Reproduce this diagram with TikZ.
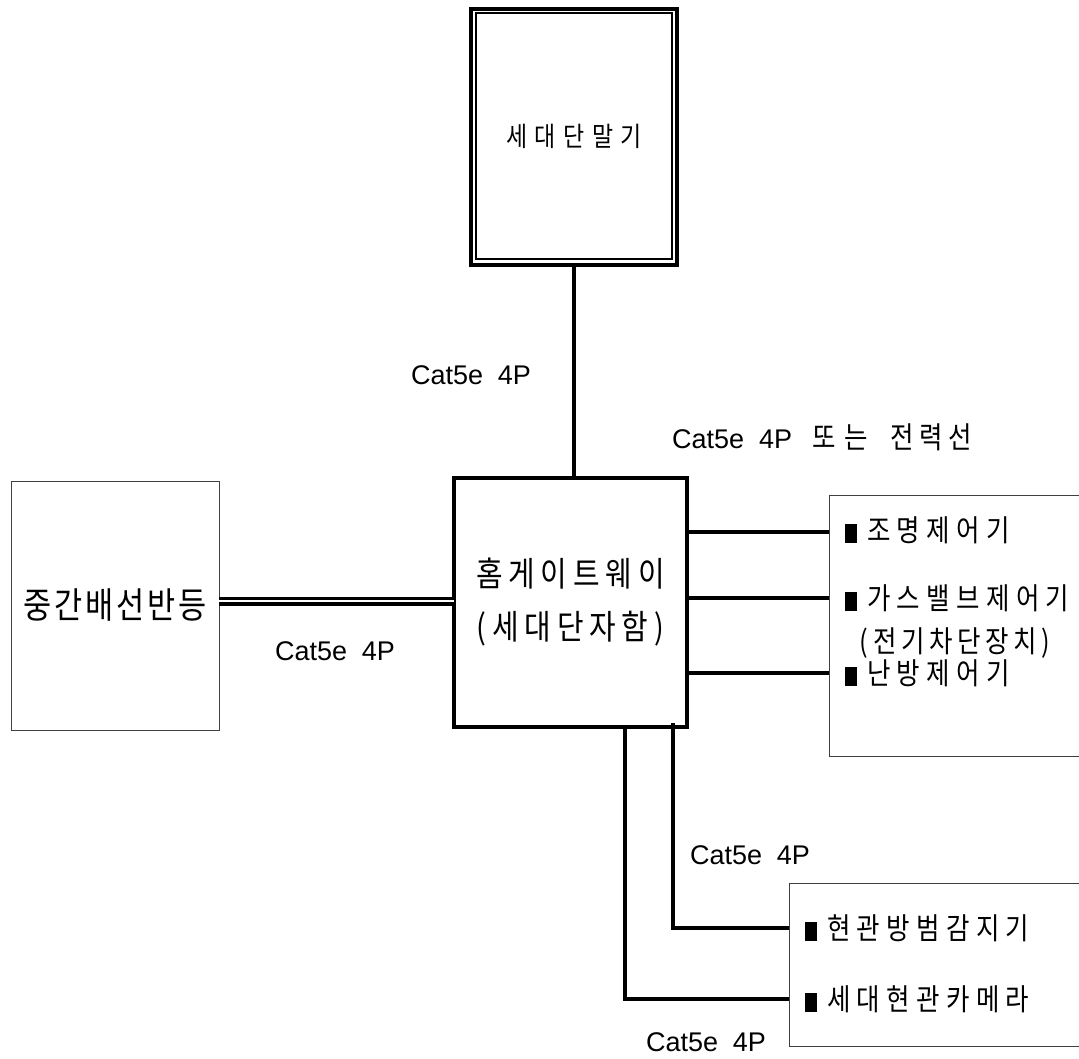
\documentclass[tikz,border=0pt]{standalone}
\usepackage{fontspec}
\setmainfont{Liberation Sans}
\newfontfamily\krA[FakeStretch=0.85,LetterSpace=28]{Noto Sans CJK KR}
\newfontfamily\krB[FakeStretch=0.85,LetterSpace=17]{Noto Sans CJK KR}
\newfontfamily\krC[FakeStretch=0.85,LetterSpace=8]{Noto Sans CJK KR}
\newfontfamily\krD[FakeStretch=0.85,LetterSpace=21]{Noto Sans CJK KR}
\newfontfamily\krE[FakeStretch=0.85]{Noto Sans CJK KR}
\newfontfamily\lat{Liberation Sans}
\newcommand{\cat}{{\lat Cat5e\hspace{0.55em}4P}}
\newcommand{\blk}{\rule[-2pt]{12pt}{19pt}\hspace{10pt}}
\begin{document}
\begin{tikzpicture}[x=1pt,y=-1pt,
  thick box/.style={draw=black,line width=4pt,inner sep=0pt,outer sep=0pt},
  thin box/.style={draw=black!75,line width=1pt,inner sep=0pt,outer sep=0pt},
  conn/.style={line width=4pt},
  lbl/.style={inner sep=0pt,font=\fontsize{27}{30}\selectfont},
  item/.style={inner sep=0pt,anchor=west,font=\fontsize{30}{34}\selectfont\krD}
]
\useasboundingbox (0,0) rectangle (1079,1059);
\clip (0,0) rectangle (1079,1059);

% top terminal box
\node[thick box,minimum width=206pt,minimum height=256pt] (term) at (574,137) {};
\node[draw=black,line width=2pt,inner sep=0pt,minimum width=196pt,minimum height=246pt,
      font=\fontsize{27}{30}\selectfont\krA] (termin) at (574,136) {세대단말기};

% hub
\node[thick box,minimum width=233pt,minimum height=249pt,align=center,
      font=\fontsize{34}{53}\selectfont\krB] (hub) at (570.5,602.5) {홈게이트웨이\\(세대단자함)};

% left box
\node[thin box,minimum width=208pt,minimum height=249pt,
      font=\fontsize{36}{40}\selectfont\krC] (left) at (115,605.5) {중간배선반등};

% right boxes
\node[thin box,minimum width=256pt,minimum height=261pt] (box1) at (957,625.5) {};
\node[thin box,minimum width=296pt,minimum height=163pt] (box2) at (937,964.5) {};

% items
\node[item] (i1) at (845,530) {\blk 조명제어기};
\node[item] (i2) at (845,598) {\blk 가스밸브제어기};
\node[inner sep=0pt,font=\fontsize{30}{34}\selectfont\krE] (i2b) at (955,643)
  {(\hspace{5pt}전\hspace{4.5pt}기\hspace{4.5pt}차\hspace{4.5pt}단\hspace{4.5pt}장\hspace{4.5pt}치\hspace{5pt})};
\node[item] (i3) at (845,673) {\blk 난방제어기};
\node[item] (i4) at (805,928) {\blk 현관방범감지기};
\node[item] (i5) at (805,999) {\blk 세대현관카메라};

% labels
\node[lbl] (l1) at (471,375) {\cat};
\node[lbl,anchor=west] (l2) at (672,437)
  {\cat\hspace{20pt}{\fontsize{30}{34}\selectfont\krE 또\hspace{9pt}는\hspace{22pt}전\hspace{6pt}력\hspace{6pt}선}};
\node[lbl] (l3) at (335,651) {\cat};
\node[lbl] (l4) at (750,855) {\cat};
\node[lbl] (l5) at (706,1042) {\cat};

% connectors
\draw[conn] (term.south) -- (term.south |- hub.north);
\draw[line width=3.5pt,double,double distance=2pt] (left.east |- 0,601) -- (hub.west |- 0,601);
\draw[conn] (hub.east |- 0,532) -- (box1.west |- 0,532);
\draw[conn] (hub.east |- 0,598) -- (box1.west |- 0,598);
\draw[conn] (hub.east |- 0,673) -- (box1.west |- 0,673);
\coordinate (xa) at (625,0);
\coordinate (xb) at (673,0);
\draw[conn] (xa |- hub.south) |- (box2.west |- i5.west);
\draw[conn] (xb |- 0,723) |- (box2.west |- i4.west);
\end{tikzpicture}
\end{document}
